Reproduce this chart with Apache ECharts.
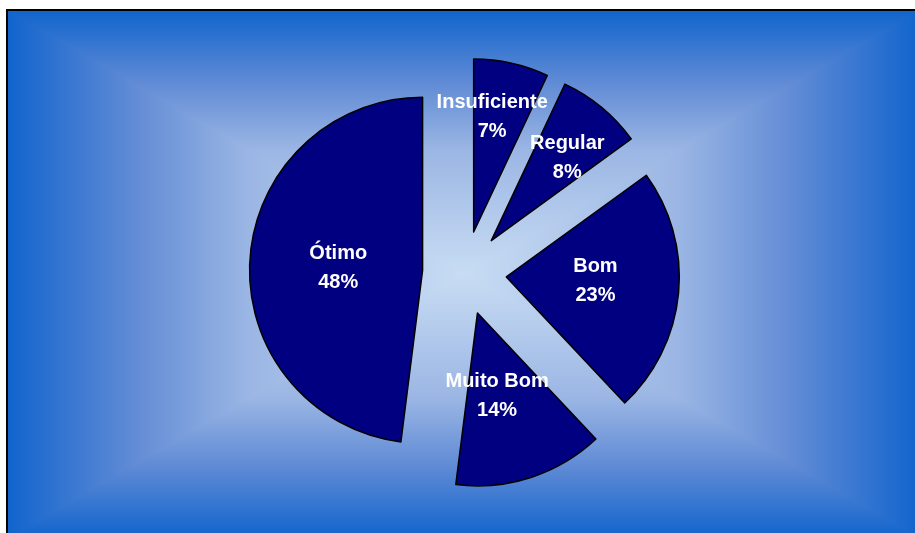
<!DOCTYPE html>
<html>
<head>
<meta charset="utf-8">
<script src="https://cdn.jsdelivr.net/npm/echarts@6/dist/echarts.min.js"></script>
<style>
  html, body { margin: 0; padding: 0; background: #ffffff; }
  #chart { width: 915px; height: 533px; }
</style>
</head>
<body>
<div id="chart"></div>
<script>
// ---- data ----
var categories = ['Insuficiente', 'Regular', 'Bom', 'Muito Bom', 'Ótimo'];
var values = [7, 8, 23, 14, 48];

// ---- styling (not data) ----
var labelShift = {
  'Insuficiente': [-1, -28],
  'Regular': [19, -14],
  'Bom': [0, -4],
  'Muito Bom': [-8, -2],
  'Ótimo': [5, 3]
};
var box = { x1: 7, y1: 10, x2: 920, y2: 538 };
var gc = { x: (box.x1 + box.x2) / 2, y: (box.y1 + box.y2) / 2 };
var cEdge = '#1064cd', c1 = '#5f8ad5', c2 = '#9bb6e4', cCenter = '#c8dcf3';

var hStops = [
  { offset: 0, color: cEdge }, { offset: 0.135, color: c1 }, { offset: 0.265, color: c2 },
  { offset: 0.5, color: cCenter },
  { offset: 0.735, color: c2 }, { offset: 0.865, color: c1 }, { offset: 1, color: cEdge }
];
var vStops = [
  { offset: 0, color: cEdge }, { offset: 0.27, color: c1 }, { offset: 0.53, color: c2 },
  { offset: 1, color: cCenter }
];

var chart = echarts.init(document.getElementById('chart'), null, { renderer: 'canvas' });

var seriesData = categories.map(function (name, i) {
  return { name: name, value: values[i], selected: true };
});

var option = {
  animation: false,
  backgroundColor: '#ffffff',
  graphic: [
    { type: 'rect', z: -10, silent: true,
      shape: { x: box.x1, y: box.y1, width: box.x2 - box.x1, height: box.y2 - box.y1 },
      style: { fill: { type: 'linear', x: box.x1, y: 0, x2: box.x2, y2: 0, global: true, colorStops: hStops } } },
    { type: 'polygon', z: -9, silent: true,
      shape: { points: [[box.x1, box.y1], [box.x2, box.y1], [gc.x, gc.y]] },
      style: { fill: { type: 'linear', x: 0, y: box.y1, x2: 0, y2: gc.y, global: true, colorStops: vStops } } },
    { type: 'polygon', z: -9, silent: true,
      shape: { points: [[box.x1, box.y2], [box.x2, box.y2], [gc.x, gc.y]] },
      style: { fill: { type: 'linear', x: 0, y: box.y2, x2: 0, y2: gc.y, global: true, colorStops: vStops } } },
    { type: 'rect', z: -8, silent: true,
      shape: { x: box.x1, y: box.y1, width: box.x2 - box.x1, height: box.y2 - box.y1 },
      style: { fill: null, stroke: '#000000', lineWidth: 2 } }
  ],
  series: [{
    type: 'pie',
    center: [464.5, 273],
    radius: [0, 173],
    startAngle: 90,
    clockwise: true,
    selectedMode: 'multiple',
    selectedOffset: 42,
    avoidLabelOverlap: false,
    silent: true,
    itemStyle: { color: '#000080', borderColor: '#000000', borderWidth: 1.5 },
    select: { itemStyle: { color: '#000080', borderColor: '#000000', borderWidth: 1.5 } },
    emphasis: { scale: false },
    label: {
      show: true,
      position: 'inside',
      formatter: '{b}\n{c}%',
      color: '#ffffff',
      fontFamily: 'Liberation Sans, Arial, sans-serif',
      fontWeight: 'bold',
      fontSize: 20,
      lineHeight: 29,
      align: 'center'
    },
    labelLayout: function (params) {
      var s = labelShift[categories[params.dataIndex]] || [0, 0];
      return { dx: s[0], dy: s[1], hideOverlap: false };
    },
    labelLine: { show: false },
    data: seriesData
  }]
};
chart.setOption(option);
</script>
</body>
</html>
